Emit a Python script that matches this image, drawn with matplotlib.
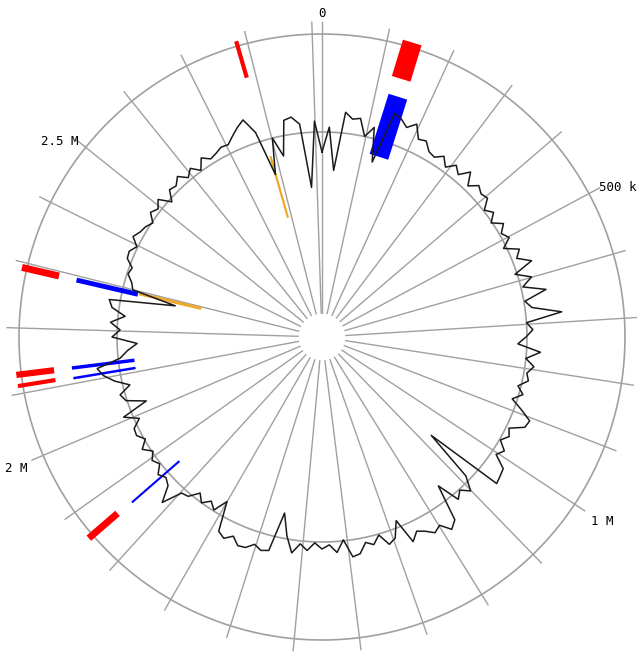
import numpy as np
import matplotlib.pyplot as plt

genome_len = 2.915  # Mb

# GC skew/content track, one value every 2 degrees (radius in px-like units)
gc_values = [185, 210, 167, 226, 220, 222, 205, 216, 182, 235,
             232, 226, 233, 220, 222, 214, 212, 218, 210, 218,
             212, 222, 210, 218, 214, 216, 206, 212, 204, 214,
             207, 212, 202, 216, 210, 223, 203, 218, 207, 229,
             206, 212, 241, 205, 211, 204, 196, 219, 205, 214,
             208, 211, 202, 209, 200, 212, 224, 222, 208, 212,
             206, 215, 210, 224, 226, 228, 147, 200, 214, 206,
             212, 189, 226, 232, 222, 226, 220, 216, 224, 198,
             214, 218, 206, 214, 210, 220, 222, 204, 216, 208,
             212, 206, 214, 208, 218, 202, 180, 220, 222, 218,
             224, 225, 218, 224, 220, 190, 204, 198, 205, 198,
             208, 210, 230, 214, 210, 214, 206, 210, 204, 212,
             204, 210, 209, 200, 214, 187, 206, 210, 198, 212,
             222, 227, 203, 195, 185, 210, 202, 212, 198, 212,
             216, 150, 195, 198, 204, 202, 210, 211, 206, 214,
             210, 208, 204, 212, 208, 214, 202, 212, 210, 216,
             208, 214, 206, 216, 210, 212, 215, 214, 220, 226,
             231, 215, 169, 205, 185, 220, 222, 214, 150, 216]
gc_pos = np.arange(len(gc_values)) * genome_len / len(gc_values)

# features (position in Mb)
red_pos = [0.138, 1.856, 2.112, 2.129, 2.292, 2.784]
blue_pos = [0.142, 1.854, 2.110, 2.129, 2.292]
orange_pos = [2.294, 2.786]
red_lw = [14, 5, 3, 4.5, 5, 3]
blue_lw = [14, 1.5, 1.8, 2.5, 3.5]
orange_lw = [2.2, 1.6]

tick_labels = {0: '0', 5: '500 k', 10: '1 M', 20: '2 M', 25: '2.5 M'}


def ang(p):
    return np.asarray(p) / genome_len * 2 * np.pi


R = 318
fig = plt.figure(figsize=(6.38, 6.55), dpi=100)
ax = fig.add_axes([(322 - R) / 638, 0, 2 * R / 638, 2 * R / 655], projection='polar')
ax.set_theta_zero_location('N')
ax.set_theta_direction(-1)
ax.set_ylim(0, R)
ax.axis('off')

grey = '#a0a0a0'
# radial grid every 100 kb
for k in range(30):
    t = ang(k * 0.1)
    ax.plot([t, t], [24, 315], color=grey, lw=1.0)

circ = np.linspace(0, 2 * np.pi, 600)
ax.plot(circ, np.full_like(circ, 303), color=grey, lw=1.2)
ax.plot(circ, np.full_like(circ, 205), color=grey, lw=1.2)

# feature tracks
for p, w in zip(red_pos, red_lw):
    ax.plot([ang(p)] * 2, [270, 308], color='#ff0000', lw=w, solid_capstyle='butt')
for p, w in zip(blue_pos, blue_lw):
    ax.plot([ang(p)] * 2, [189, 252], color='#0000ff', lw=w, solid_capstyle='butt')
for p, w in zip(orange_pos, orange_lw):
    ax.plot([ang(p)] * 2, [124, 188], color='#f0a828', lw=w, solid_capstyle='butt')

# GC line
th = np.append(ang(gc_pos), 2 * np.pi)
rr = np.append(gc_values, gc_values[0])
ax.plot(th, rr, color='#1a1a1a', lw=1.1)

# labels
font = dict(family='DejaVu Sans Mono', fontsize=9, clip_on=False)
ax.text(0, 317, tick_labels[0], ha='center', va='bottom', **font)
ax.text(ang(0.5), 315, tick_labels[5], ha='left', va='center', **font)
ax.text(ang(1.0), 322, tick_labels[10], ha='left', va='top', **font)
ax.text(ang(2.0), 320, tick_labels[20], ha='right', va='top', **font)
ax.text(ang(2.5), 312, tick_labels[25], ha='right', va='center', **font)

fig.savefig('out.png', dpi=100)
